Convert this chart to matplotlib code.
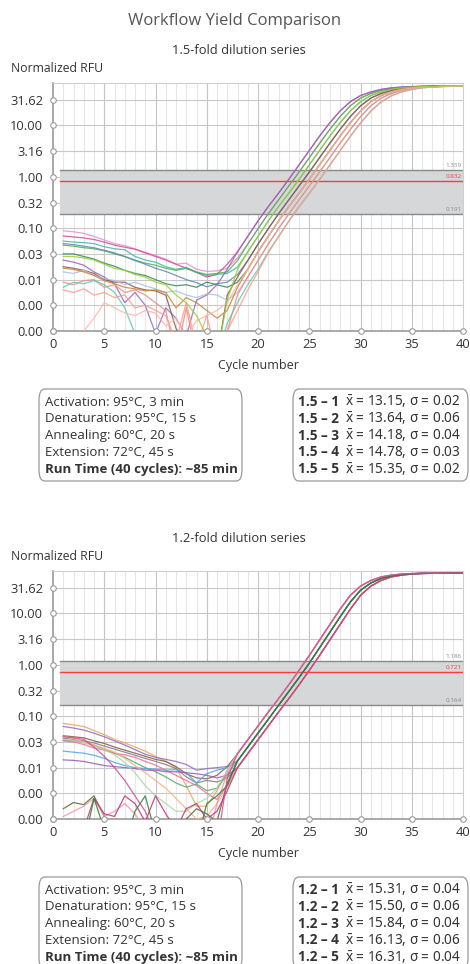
import numpy as np
import matplotlib.pyplot as plt
from matplotlib.patches import FancyBboxPatch

plt.rcParams['font.family'] = ['Open Sans', 'DejaVu Sans']
plt.rcParams['mathtext.fontset'] = 'custom'
plt.rcParams['mathtext.rm'] = 'Noto Sans'

W, H = 470, 964
cycles = np.arange(1, 41)

# log10 of normalized RFU per cycle (1..40)
top_curves = [
    [-1.05, -1.07, -1.10, -1.16, -1.23, -1.30, -1.34, -1.40, -1.47, -1.53, -1.60, -1.70, -1.68, -1.80, -1.84, -1.83,
     -1.78, -1.58, -1.31, -1.01, -0.72, -0.45, -0.18, 0.09, 0.37, 0.65, 0.92, 1.17, 1.38, 1.53, 1.62, 1.68, 1.72, 1.74, 1.75, 1.76, 1.765, 1.77, 1.77, 1.77],
    [-1.15, -1.17, -1.19, -1.22, -1.27, -1.33, -1.37, -1.41, -1.48, -1.55, -1.62, -1.70, -1.78, -1.86, -1.95, -1.90,
     -1.70, -1.46, -1.16, -0.86, -0.58, -0.32, -0.05, 0.23, 0.51, 0.79, 1.05, 1.28, 1.46, 1.58, 1.65, 1.70, 1.73, 1.745, 1.755, 1.76, 1.765, 1.77, 1.77, 1.77],
    [-1.25, -1.27, -1.28, -1.30, -1.36, -1.40, -1.42, -1.55, -1.62, -1.66, -1.75, -1.80, -1.76, -1.86, -1.92, -1.90,
     -1.88, -1.76, -1.46, -1.16, -0.86, -0.58, -0.32, -0.05, 0.23, 0.51, 0.79, 1.05, 1.28, 1.46, 1.58, 1.65, 1.70, 1.73, 1.745, 1.755, 1.76, 1.765, 1.77, 1.77],
    [-1.33, -1.35, -1.38, -1.40, -1.44, -1.50, -1.55, -1.62, -1.68, -1.72, -1.78, -1.82, -1.78, -1.85, -1.90, -1.88,
     -1.85, -1.63, -1.31, -1.01, -0.72, -0.45, -0.18, 0.09, 0.37, 0.65, 0.92, 1.17, 1.38, 1.53, 1.62, 1.68, 1.72, 1.74, 1.75, 1.76, 1.765, 1.77, 1.77, 1.77],
    [-1.30, -1.32, -1.35, -1.38, -1.43, -1.48, -1.55, -1.63, -1.70, -1.78, -1.84, -1.92, -2.00, -2.06, -2.14, -2.08,
     -2.05, -1.90, -1.63, -1.31, -1.01, -0.72, -0.45, -0.18, 0.09, 0.37, 0.65, 0.92, 1.17, 1.38, 1.53, 1.62, 1.68, 1.72, 1.74, 1.75, 1.76, 1.765, 1.77, 1.77],
    [-1.50, -1.50, -1.55, -1.60, -1.68, -1.74, -1.82, -1.88, -1.92, -2.00, -2.08, -2.12, -2.10, -2.15, -2.05, -2.10,
     -2.15, -2.05, -1.80, -1.46, -1.16, -0.86, -0.58, -0.32, -0.05, 0.23, 0.51, 0.79, 1.05, 1.28, 1.46, 1.58, 1.65, 1.70, 1.73, 1.745, 1.755, 1.76, 1.765, 1.77],
    [-1.62, -1.66, -1.72, -1.85, -1.95, -2.08, -2.45, -2.25, -2.50, -3.05, -2.55, -2.75, -3.10, -2.40, -2.30, -2.10,
     -1.80, -1.46, -1.16, -0.86, -0.58, -0.32, -0.05, 0.23, 0.51, 0.79, 1.05, 1.28, 1.46, 1.58, 1.65, 1.70, 1.73, 1.745, 1.755, 1.76, 1.765, 1.77, 1.77, 1.77],
    [-1.75, -1.78, -1.82, -1.88, -2.00, -2.05, -2.05, -2.15, -2.20, -2.22, -2.30, -2.95, -3.30, -3.50, -3.50, -3.50,
     -2.30, -1.95, -1.63, -1.31, -1.01, -0.72, -0.45, -0.18, 0.09, 0.37, 0.65, 0.92, 1.17, 1.38, 1.53, 1.62, 1.68, 1.72, 1.74, 1.75, 1.76, 1.765, 1.77, 1.77],
    [-1.85, -1.88, -1.82, -1.92, -1.98, -2.02, -2.10, -2.05, -2.12, -2.18, -2.25, -2.22, -2.30, -2.35, -2.28, -2.30,
     -2.40, -2.25, -1.95, -1.63, -1.31, -1.01, -0.72, -0.45, -0.18, 0.09, 0.37, 0.65, 0.92, 1.17, 1.38, 1.53, 1.62, 1.68, 1.72, 1.74, 1.75, 1.76, 1.765, 1.77],
    [-1.78, -1.80, -1.85, -1.92, -2.02, -2.08, -2.15, -2.18, -2.22, -2.20, -2.25, -2.55, -2.35, -2.45, -2.60, -2.75,
     -2.60, -2.15, -1.80, -1.46, -1.16, -0.86, -0.58, -0.32, -0.05, 0.23, 0.51, 0.79, 1.05, 1.28, 1.46, 1.58, 1.65, 1.70, 1.73, 1.745, 1.755, 1.76, 1.765, 1.77],
    [-2.05, -2.10, -2.02, -2.00, -2.15, -2.10, -2.25, -2.20, -2.30, -2.45, -2.60, -3.50, -2.55, -3.50, -3.50, -3.50,
     -3.00, -2.30, -1.95, -1.63, -1.31, -1.01, -0.72, -0.45, -0.18, 0.09, 0.37, 0.65, 0.92, 1.17, 1.38, 1.53, 1.62, 1.68, 1.72, 1.74, 1.75, 1.76, 1.765, 1.77],
    [-2.15, -2.05, -2.08, -2.02, -2.10, -2.25, -2.55, -3.05, -3.50, -3.50, -3.50, -3.50, -3.50, -3.50, -3.50, -3.50,
     -2.85, -2.45, -2.10, -1.80, -1.46, -1.16, -0.86, -0.58, -0.32, -0.05, 0.23, 0.51, 0.79, 1.05, 1.28, 1.46, 1.58, 1.65, 1.70, 1.73, 1.745, 1.755, 1.76, 1.765],
    [-2.20, -2.25, -2.18, -2.30, -2.25, -2.35, -2.30, -2.55, -2.50, -2.60, -2.70, -3.20, -2.45, -3.30, -2.70, -3.50,
     -3.00, -2.60, -2.20, -1.85, -1.48, -1.17, -0.87, -0.59, -0.33, -0.06, 0.22, 0.50, 0.78, 1.04, 1.27, 1.45, 1.57, 1.65, 1.70, 1.73, 1.745, 1.755, 1.76, 1.765],
    [-3.50, -3.50, -3.00, -2.75, -2.45, -2.55, -2.65, -2.70, -2.60, -2.65, -2.90, -2.75, -3.10, -2.80, -2.70, -2.60,
     -2.45, -2.10, -1.80, -1.46, -1.16, -0.86, -0.58, -0.32, -0.05, 0.23, 0.51, 0.79, 1.05, 1.28, 1.46, 1.58, 1.65, 1.70, 1.73, 1.745, 1.755, 1.76, 1.765, 1.77],
    [-1.55, -1.55, -1.58, -1.62, -1.70, -1.78, -1.82, -1.90, -1.95, -2.05, -2.10, -2.30, -2.45, -2.70, -3.10, -3.50,
     -2.40, -1.80, -1.46, -1.16, -0.86, -0.58, -0.32, -0.05, 0.23, 0.51, 0.79, 1.05, 1.28, 1.46, 1.58, 1.65, 1.70, 1.73, 1.745, 1.755, 1.76, 1.765, 1.77, 1.77],
]
top_colors = ['#e58fcf', '#d6479a', '#3fb8a8', '#4caf50', '#6a7fb5', '#2e8b57', '#9467bd', '#8c564b',
              '#a8bfe6', '#c8843a', '#f4877a', '#5cc8b0', '#ff9a8a', '#ffb3a7', '#9acd32']

bottom_curves = [
    [-1.14, -1.17, -1.20, -1.28, -1.36, -1.45, -1.52, -1.60, -1.68, -1.78, -1.88, -2.00, -2.35, -2.75, -2.75, -2.45,
     -2.05, -1.73, -1.46, -1.19, -0.92, -0.66, -0.39, -0.11, 0.18, 0.48, 0.78, 1.08, 1.35, 1.53, 1.64, 1.71, 1.745, 1.765, 1.775, 1.78, 1.78, 1.78, 1.785, 1.785],
    [-1.20, -1.23, -1.27, -1.33, -1.40, -1.48, -1.56, -1.65, -1.74, -1.80, -1.84, -1.88, -1.94, -2.05, -2.02, -2.00,
     -1.98, -1.87, -1.60, -1.33, -1.06, -0.79, -0.52, -0.25, 0.03, 0.33, 0.63, 0.93, 1.22, 1.45, 1.59, 1.68, 1.73, 1.755, 1.77, 1.78, 1.78, 1.78, 1.785, 1.785],
    [-1.38, -1.40, -1.42, -1.48, -1.53, -1.60, -1.66, -1.72, -1.78, -1.84, -1.88, -1.98, -2.12, -2.20, -2.22, -2.15,
     -1.98, -1.73, -1.46, -1.19, -0.92, -0.66, -0.39, -0.11, 0.18, 0.48, 0.78, 1.08, 1.35, 1.53, 1.64, 1.71, 1.745, 1.765, 1.775, 1.78, 1.78, 1.78, 1.785, 1.785],
    [-1.43, -1.45, -1.48, -1.52, -1.58, -1.64, -1.70, -1.76, -1.82, -1.88, -1.94, -2.02, -2.18, -2.30, -2.25, -2.28,
     -2.20, -2.00, -1.73, -1.46, -1.19, -0.92, -0.66, -0.39, -0.11, 0.18, 0.48, 0.78, 1.08, 1.35, 1.53, 1.64, 1.71, 1.745, 1.765, 1.775, 1.78, 1.78, 1.78, 1.785],
    [-1.47, -1.48, -1.50, -1.56, -1.65, -1.72, -1.80, -1.90, -2.00, -2.08, -2.18, -2.30, -2.38, -2.32, -2.45, -2.40,
     -2.13, -1.87, -1.60, -1.33, -1.06, -0.79, -0.52, -0.25, 0.03, 0.33, 0.63, 0.93, 1.22, 1.45, 1.59, 1.68, 1.73, 1.755, 1.77, 1.78, 1.78, 1.78, 1.785, 1.785],
    [-1.48, -1.50, -1.55, -1.62, -1.66, -1.72, -1.75, -1.80, -1.88, -1.95, -2.05, -2.15, -2.25, -2.35, -2.50, -2.62,
     -2.35, -2.00, -1.73, -1.46, -1.19, -0.92, -0.66, -0.39, -0.11, 0.18, 0.48, 0.78, 1.08, 1.35, 1.53, 1.64, 1.71, 1.745, 1.765, 1.775, 1.78, 1.78, 1.78, 1.785],
    [-1.68, -1.70, -1.72, -1.76, -1.82, -1.90, -1.96, -2.00, -2.02, -2.03, -2.05, -2.04, -2.10, -2.30, -2.12, -2.05,
     -2.00, -1.87, -1.60, -1.33, -1.06, -0.79, -0.52, -0.25, 0.03, 0.33, 0.63, 0.93, 1.22, 1.45, 1.59, 1.68, 1.73, 1.755, 1.77, 1.78, 1.78, 1.78, 1.785, 1.785],
    [-1.85, -1.86, -1.88, -1.92, -1.96, -1.98, -2.00, -2.02, -2.05, -2.05, -2.08, -2.08, -2.10, -2.12, -2.15, -2.20,
     -2.15, -2.00, -1.73, -1.46, -1.19, -0.92, -0.66, -0.39, -0.11, 0.18, 0.48, 0.78, 1.08, 1.35, 1.53, 1.64, 1.71, 1.745, 1.765, 1.775, 1.78, 1.78, 1.78, 1.785],
    [-1.45, -1.47, -1.52, -1.58, -1.65, -1.75, -1.90, -2.10, -2.35, -2.55, -2.70, -2.85, -2.85, -2.70, -2.60, -2.40,
     -2.05, -1.73, -1.46, -1.19, -0.92, -0.66, -0.39, -0.11, 0.18, 0.48, 0.78, 1.08, 1.35, 1.53, 1.64, 1.71, 1.745, 1.765, 1.775, 1.78, 1.78, 1.78, 1.785, 1.785],
    [-1.40, -1.43, -1.50, -1.56, -1.62, -1.70, -1.82, -1.96, -2.10, -2.25, -2.40, -2.60, -2.80, -3.00, -2.95, -2.70,
     -2.40, -2.00, -1.73, -1.46, -1.19, -0.92, -0.66, -0.39, -0.11, 0.18, 0.48, 0.78, 1.08, 1.35, 1.53, 1.64, 1.71, 1.745, 1.765, 1.775, 1.78, 1.78, 1.78, 1.785],
    [-2.80, -2.68, -2.72, -2.55, -2.95, -3.50, -3.50, -3.50, -3.50, -3.50, -3.50, -3.50, -3.00, -2.80, -2.90, -3.05,
     -2.30, -1.87, -1.60, -1.33, -1.06, -0.79, -0.52, -0.25, 0.03, 0.33, 0.63, 0.93, 1.22, 1.45, 1.59, 1.68, 1.73, 1.755, 1.77, 1.78, 1.78, 1.78, 1.785, 1.785],
    [-2.95, -2.85, -2.75, -2.60, -2.95, -2.85, -2.70, -2.90, -3.20, -3.50, -3.50, -3.50, -3.50, -3.50, -3.50, -2.70,
     -2.10, -1.73, -1.46, -1.19, -0.92, -0.66, -0.39, -0.11, 0.18, 0.48, 0.78, 1.08, 1.35, 1.53, 1.64, 1.71, 1.745, 1.765, 1.775, 1.78, 1.78, 1.78, 1.785, 1.785],
    [-3.50, -3.50, -3.20, -2.60, -2.90, -2.95, -2.55, -2.70, -3.05, -2.55, -2.90, -3.20, -2.80, -2.70, -3.00, -2.85,
     -2.45, -2.00, -1.73, -1.46, -1.19, -0.92, -0.66, -0.39, -0.11, 0.18, 0.48, 0.78, 1.08, 1.35, 1.53, 1.64, 1.71, 1.745, 1.765, 1.775, 1.78, 1.78, 1.78, 1.785],
    [-3.50, -3.50, -3.50, -2.60, -3.20, -3.50, -3.50, -2.85, -2.55, -3.30, -3.50, -3.50, -3.50, -3.50, -2.70, -2.55,
     -2.35, -1.87, -1.60, -1.33, -1.06, -0.79, -0.52, -0.25, 0.03, 0.33, 0.63, 0.93, 1.22, 1.45, 1.59, 1.68, 1.73, 1.755, 1.77, 1.78, 1.78, 1.78, 1.785, 1.785],
    [-1.40, -1.42, -1.45, -1.60, -1.78, -2.00, -2.25, -2.55, -2.85, -3.30, -3.50, -3.50, -3.50, -3.50, -3.50, -3.50,
     -2.20, -1.73, -1.46, -1.19, -0.92, -0.66, -0.39, -0.11, 0.18, 0.48, 0.78, 1.08, 1.35, 1.53, 1.64, 1.71, 1.745, 1.765, 1.775, 1.78, 1.78, 1.78, 1.785, 1.785],
]
bottom_colors = ['#f5a05a', '#8e6bbf', '#8c564b', '#7f7f7f', '#55a868', '#f06ba0', '#4aa8e8', '#9b59b6',
                 '#a8d8a0', '#f7b27a', '#556b2f', '#f48fb1', '#c2307a', '#2e7d32', '#d6479a']

ytick_exp = [-3, -2.5, -2, -1.5, -1, -0.5, 0, 0.5, 1, 1.5]
ytick_labels = ['0.00', '0.00', '0.01', '0.03', '0.10', '0.32', '1.00', '3.16', '10.00', '31.62']
xticks = [0, 5, 10, 15, 20, 25, 30, 35, 40]

top_band = [0.191, 0.832, 1.359]
bottom_band = [0.164, 0.721, 1.186]

protocol = ['Activation: 95°C, 3 min', 'Denaturation: 95°C, 15 s', 'Annealing: 60°C, 20 s',
            'Extension: 72°C, 45 s', 'Run Time (40 cycles): ~85 min']
XBAR = r'$\bar{\mathrm{x}}$'
top_names = ['1.5 – 1', '1.5 – 2', '1.5 – 3', '1.5 – 4', '1.5 – 5']
top_stats = [XBAR + ' = 13.15, σ = 0.02', XBAR + ' = 13.64, σ = 0.06', XBAR + ' = 14.18, σ = 0.04',
             XBAR + ' = 14.78, σ = 0.03', XBAR + ' = 15.35, σ = 0.02']
bottom_names = ['1.2 – 1', '1.2 – 2', '1.2 – 3', '1.2 – 4', '1.2 – 5']
bottom_stats = [XBAR + ' = 15.31, σ = 0.04', XBAR + ' = 15.50, σ = 0.06', XBAR + ' = 15.84, σ = 0.04',
                XBAR + ' = 16.13, σ = 0.06', XBAR + ' = 16.31, σ = 0.04']

TXT = '#333333'
fig = plt.figure(figsize=(W / 100, H / 100), dpi=100)


def fy(py):
    return 1 - py / H


def fx(px):
    return px / W


def panel(off, subtitle, curves, colors, band, names, stats):
    ax = fig.add_axes([fx(53), fy(331 + off), fx(410), 248 / H])
    ax.set_yscale('log')
    ax.set_xlim(0, 40)
    ax.set_ylim(10 ** -3, 10 ** 1.825)
    # grid
    for c in range(1, 40):
        ax.axvline(c, color='#c4c4c4' if c % 5 == 0 else '#e6e6e6', lw=0.8, zorder=0)
    for e in ytick_exp[1:]:
        ax.axhline(10 ** e, color='#c8c8c8', lw=0.8, zorder=0)
    # threshold band
    lo, mid, hi = band
    ax.fill_between([0.7, 40], lo, hi, color='#d6d7d9', zorder=1, lw=0)
    ax.plot([0.7, 40], [lo, lo], color='#8a8a8a', lw=1, zorder=2)
    ax.plot([0.7, 40], [hi, hi], color='#8a8a8a', lw=1, zorder=2)
    ax.plot([0.7, 40], [mid, mid], color='#ff3a3a', lw=1, zorder=2)
    for v, col in [(hi, '#8a8a8a'), (mid, '#ff3a3a'), (lo, '#8a8a8a')]:
        ax.text(39.9, v * 1.08, f'{v:.3f}', fontsize=4.5, color=col, ha='right', va='bottom', zorder=3)
    # curves
    for vals, col in zip(curves, colors):
        ax.plot(cycles, 10 ** np.array(vals), color=col, lw=0.9, alpha=0.85, zorder=4)
    # axes styling
    for s in ['top', 'right']:
        ax.spines[s].set_color('#cfcfcf')
    for s in ['left', 'bottom']:
        ax.spines[s].set_color('#9a9a9a')
        ax.spines[s].set_linewidth(1.2)
    ax.set_yticks([10 ** e for e in ytick_exp])
    ax.set_yticklabels(ytick_labels)
    ax.minorticks_off()
    ax.set_xticks(xticks)
    ax.tick_params(length=0, labelsize=9.3, colors=TXT, pad=7)
    ax.tick_params(axis='x', pad=5)
    ax.plot([0] * len(ytick_exp), [10 ** e for e in ytick_exp], 'o', ms=4, mfc='white',
            mec='#9a9a9a', mew=0.8, clip_on=False, zorder=6)
    ax.plot(xticks, [10 ** -3] * len(xticks), 'o', ms=4, mfc='white',
            mec='#9a9a9a', mew=0.8, clip_on=False, zorder=6)
    ax.set_xlabel('Cycle number', fontsize=9, color=TXT, labelpad=6)

    fig.text(fx(239), fy(51 + off), subtitle, fontsize=9.3, color=TXT, ha='center', va='center')
    fig.text(fx(11), fy(68 + off), 'Normalized RFU', fontsize=8.8, color=TXT, ha='left', va='center')

    # info boxes
    top = 389 + off
    for x0, x1 in [(39, 242), (293, 468)]:
        box = FancyBboxPatch((fx(x0), fy(top + 92)), fx(x1 - x0), 92 / H,
                             boxstyle='round,pad=0,rounding_size=0.012', transform=fig.transFigure,
                             fc='white', ec='#9a9a9a', lw=0.9)
        fig.add_artist(box)
    for i, line in enumerate(protocol):
        fig.text(fx(45), fy(top + 13 + 16.8 * i), line, fontsize=9.5, color=TXT, va='center',
                 fontweight='bold' if i == 4 else 'normal')
    for i in range(5):
        yy = fy(top + 13 + 16.8 * i)
        fig.text(fx(298), yy, names[i], fontsize=9.8, color=TXT, va='center', fontweight='bold')
        fig.text(fx(345), yy, stats[i], fontsize=9.8, color=TXT, va='center',
                 family=['Noto Sans', 'DejaVu Sans'])
    return ax


fig.text(0.5, fy(21), 'Workflow Yield Comparison', fontsize=12, color='#555555', ha='center', va='center')
panel(0, '1.5-fold dilution series', top_curves, top_colors, top_band, top_names, top_stats)
panel(488, '1.2-fold dilution series', bottom_curves, bottom_colors, bottom_band, bottom_names, bottom_stats)

fig.savefig('out.png', dpi=100)
